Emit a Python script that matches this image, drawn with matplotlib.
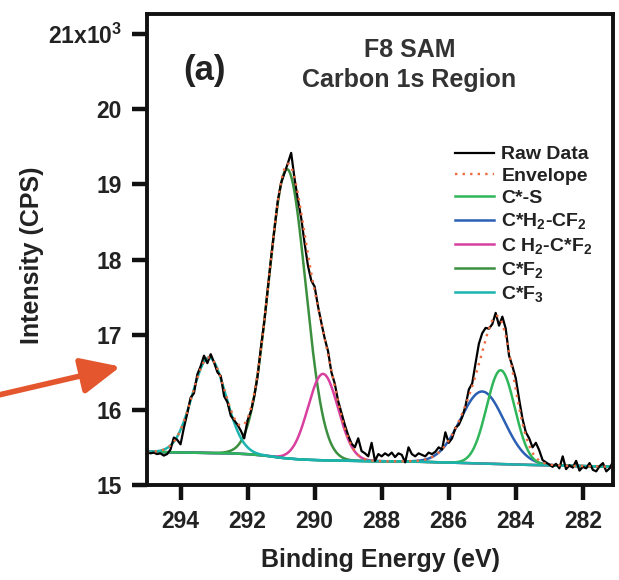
import numpy as np
import matplotlib
matplotlib.use('Agg')
import matplotlib.pyplot as plt
from matplotlib.patches import FancyArrowPatch

plt.rcParams['font.family'] = ['Liberation Sans', 'DejaVu Sans']
plt.rcParams['font.weight'] = 'bold'
plt.rcParams['axes.labelweight'] = 'bold'
plt.rcParams['mathtext.fontset'] = 'custom'
plt.rcParams['mathtext.rm'] = 'Liberation Sans:bold'
plt.rcParams['mathtext.default'] = 'rm'

# ====== data (intensity in 10^3 CPS) ======
energy = np.linspace(295.0, 281.1, 140)
raw = [15.44, 15.42, 15.43, 15.41, 15.42, 15.39, 15.41, 15.47, 15.63, 15.60,
       15.54, 15.76, 15.95, 16.16, 16.22, 16.47, 16.58, 16.72, 16.62, 16.74,
       16.63, 16.50, 16.45, 16.18, 16.10, 15.92, 15.86, 15.80, 15.72, 15.62,
       15.86, 15.98, 16.18, 16.45, 16.84, 17.18, 17.60, 18.02, 18.40, 18.78,
       19.02, 19.15, 19.28, 19.42, 19.08, 18.80, 18.55, 18.22, 17.92, 17.72,
       17.64, 17.38, 17.16, 16.95, 16.78, 16.50, 16.35, 16.12, 15.96, 15.80,
       15.66, 15.55, 15.50, 15.62, 15.45, 15.42, 15.38, 15.56, 15.32, 15.41,
       15.38, 15.42, 15.39, 15.43, 15.37, 15.42, 15.40, 15.30, 15.50, 15.41,
       15.38, 15.42, 15.40, 15.38, 15.43, 15.41, 15.44, 15.50, 15.47, 15.70,
       15.56, 15.62, 15.76, 15.80, 15.90, 16.05, 16.27, 16.35, 16.62, 16.88,
       17.02, 17.09, 17.08, 17.14, 17.29, 17.12, 17.24, 17.08, 16.72, 16.58,
       16.42, 16.14, 15.88, 15.70, 15.62, 15.50, 15.56, 15.46, 15.33, 15.30,
       15.27, 15.24, 15.28, 15.22, 15.38, 15.21, 15.26, 15.23, 15.32, 15.19,
       15.24, 15.22, 15.29, 15.20, 15.18, 15.25, 15.29, 15.18, 15.22, 15.31]

bg_energy = [281.0, 283.0, 284.0, 285.5, 287.0, 289.0, 290.0, 290.5, 291.0, 291.5, 292.0, 292.5, 295.0]
bg_level = [15.24, 15.26, 15.27, 15.29, 15.31, 15.32, 15.33, 15.34, 15.36, 15.39, 15.41, 15.42, 15.44]

peak_names = ['C*-S', 'C*H$_2$-CF$_2$', 'C H$_2$-C*F$_2$', 'C*F$_2$', 'C*F$_3$']
peak_center = [284.45, 285.0, 289.75, 290.82, 293.15]
peak_height = [1.25, 0.96, 1.15, 3.85, 1.27]
peak_sigma = [0.42, 0.65, 0.45, 0.55, 0.50]
peak_colors = ['#2fb65a', '#2b5fb4', '#d8409f', '#3d8f40', '#1bb3ad']

# ====== fit curves ======
fit_e = np.linspace(295.0, 281.1, 700)
bg = np.interp(fit_e, bg_energy, bg_level)
comps = []
for c, h, s in zip(peak_center, peak_height, peak_sigma):
    comps.append(h * np.exp(-(fit_e - c) ** 2 / (2 * s ** 2)))
envelope = bg + np.sum(comps, axis=0)

# ====== plot ======
fig = plt.figure(figsize=(6.19, 5.8), dpi=100)
ax = fig.add_axes([0.2375, 0.164, 0.7528, 0.812])

draw_order = [3, 2, 1, 0, 4]
lines = {}
for i in draw_order:
    lines[i], = ax.plot(fit_e, bg + comps[i], color=peak_colors[i], lw=1.8)
raw_line, = ax.plot(energy, raw, color='black', lw=1.6)
env_line, = ax.plot(fit_e, envelope, color='#ec6a3e', lw=1.7, linestyle=(0, (1, 2.2)))

handles = [raw_line, env_line] + [lines[i] for i in range(5)]
labels = ['Raw Data', 'Envelope'] + peak_names
ax.legend(handles, labels, loc='upper left', bbox_to_anchor=(445 / 619, 1 - 136 / 580),
          bbox_transform=fig.transFigure, frameon=False, fontsize=14,
          handlelength=2.0, handletextpad=0.4, labelspacing=0.22, borderpad=0,
          labelcolor='#222222')

ax.set_xlim(295.0, 281.1)
ax.set_ylim(15.0, 21.27)
ax.set_xticks([294, 292, 290, 288, 286, 284, 282])
ax.set_yticks([15, 16, 17, 18, 19, 20, 21])
ax.set_yticklabels(['15', '16', '17', '18', '19', '20', '21x10$^3$'])
ax.tick_params(direction='out', length=11, width=3.2, labelsize=16.5, pad=7,
               colors='#111111', labelcolor='#222222')
for sp in ax.spines.values():
    sp.set_linewidth(2.8)
    sp.set_color('#111111')

ax.set_xlabel('Binding Energy (eV)', fontsize=18, fontweight='bold', color='#222222', labelpad=11)
fig.text(32 / 619, 1 - 255 / 580, 'Intensity (CPS)', rotation=90, fontsize=18,
         fontweight='bold', color='#222222', ha='center', va='center')

ax.text(0.564, 0.924, 'F8 SAM', transform=ax.transAxes, ha='center', va='center',
        fontsize=18, color='#333333')
ax.text(0.562, 0.86, 'Carbon 1s Region', transform=ax.transAxes, ha='center', va='center',
        fontsize=18, color='#333333')
ax.text(0.124, 0.879, '(a)', transform=ax.transAxes, ha='center', va='center',
        fontsize=25, color='#222222')

arrow = FancyArrowPatch((-0.01, 0.317), (0.199, 0.369), transform=fig.transFigure,
                        arrowstyle='-|>,head_length=1.2,head_width=0.55',
                        mutation_scale=20, color='#e4572e', lw=4)
fig.patches.append(arrow)

fig.savefig('out.png', dpi=100)
